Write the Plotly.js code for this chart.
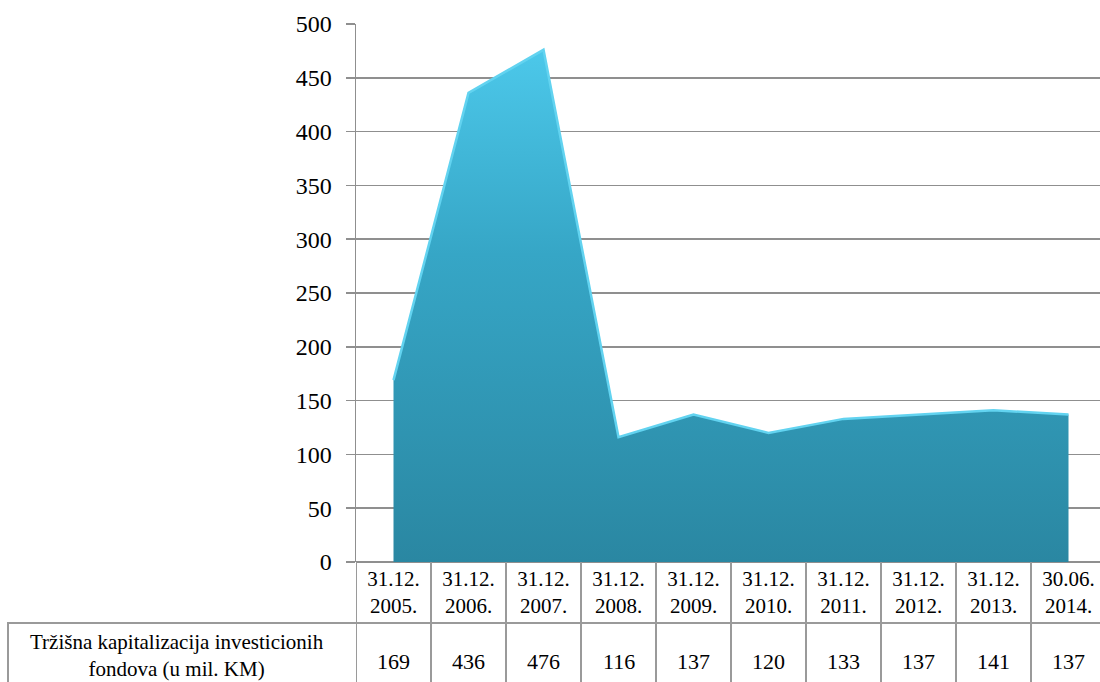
<!DOCTYPE html>
<html>
<head>
<meta charset="utf-8">
<script src="https://cdn.plot.ly/plotly-3.0.1.min.js"></script>
<style>
html,body{margin:0;padding:0;background:#fff;overflow:hidden;}
#chart{width:1100px;height:682px;}
#chart svg text{font-family:'Liberation Serif','Times New Roman',serif !important;}
</style>
</head>
<body>
<div id="chart"></div>
<script>
const categories = ["31.12.<br>2005.","31.12.<br>2006.","31.12.<br>2007.","31.12.<br>2008.","31.12.<br>2009.","31.12.<br>2010.","31.12.<br>2011.","31.12.<br>2012.","31.12.<br>2013.","30.06.<br>2014."];
const values = [169, 436, 476, 116, 137, 120, 133, 137, 141, 137];
const seriesName = "Tržišna kapitalizacija investicionih<br>fondova (u mil. KM)";
const yTicks = [0, 50, 100, 150, 200, 250, 300, 350, 400, 450, 500];

const idx = categories.map((_, i) => i);
const FONT = "Liberation Serif";
const gridCol = "#8f8f8f";
const tableCol = "#9a9a9a";

const trace = {
  x: idx, y: values, type: "scatter", mode: "lines",
  fill: "tozeroy",
  fillcolor: "#37a9c8",
  fillgradient: {type: "vertical", colorscale: [[0, "#2a87a2"], [0.6, "#36a6c6"], [1, "#4cc8ea"]]},
  line: {color: "#62d3f0", width: 2.5},
  hoverinfo: "skip"
};

const PH = 538, PW = 744;
const py = p => (562 - p) / PH;   // pixel row -> paper y
const headerBottom = py(623);
const rowBottom = -0.35;

const shapes = [];
shapes.push({type: "line", xref: "paper", yref: "paper", x0: -349/PW, x1: 1, y0: headerBottom, y1: headerBottom, line: {color: tableCol, width: 2}});
shapes.push({type: "line", xref: "paper", yref: "paper", x0: -348/PW, x1: -348/PW, y0: headerBottom, y1: rowBottom, line: {color: tableCol, width: 2}});
for (let i = 0; i <= categories.length; i++) {
  shapes.push({type: "line", xref: "x", yref: "paper", x0: i - 0.5, x1: i - 0.5, y0: 0, y1: rowBottom, line: {color: tableCol, width: 2}});
}

const annotations = values.map((v, i) => ({
  x: i, xref: "x", y: py(661), yref: "paper", text: String(v), showarrow: false,
  font: {family: FONT, size: 22, color: "#000"}, xanchor: "center", yanchor: "middle"
}));
annotations.push({
  x: (177 - 356) / PW, xref: "paper", y: py(682), yref: "paper", text: seriesName, showarrow: false,
  font: {family: FONT, size: 21, color: "#000"}, xanchor: "center", yanchor: "bottom", align: "center", borderpad: 0
});

const layout = {
  width: 1100, height: 682,
  margin: {l: 356, r: 0, t: 24, b: 120},
  paper_bgcolor: "#fff", plot_bgcolor: "#fff",
  showlegend: false,
  font: {family: FONT, color: "#000"},
  xaxis: {
    range: [-0.5, -0.5 + PW / 75],
    tickvals: idx, ticktext: categories,
    showgrid: false, zeroline: false, showline: false, ticks: "",
    ticklabelstandoff: 2,
    tickfont: {family: FONT, size: 21, color: "#000"},
    fixedrange: true
  },
  yaxis: {
    range: [0, 500], tickvals: yTicks,
    showgrid: true, gridcolor: gridCol, gridwidth: 1.5,
    zeroline: true, zerolinecolor: gridCol, zerolinewidth: 1.5,
    showline: true, linecolor: gridCol, linewidth: 1.5,
    ticks: "outside", ticklen: 9, tickcolor: gridCol, tickwidth: 1.5,
    ticklabelstandoff: 9,
    tickfont: {family: FONT, size: 24, color: "#000"},
    fixedrange: true
  },
  shapes: shapes,
  annotations: annotations
};

Plotly.newPlot("chart", [trace], layout, {displayModeBar: false, staticPlot: true});
</script>
</body>
</html>
